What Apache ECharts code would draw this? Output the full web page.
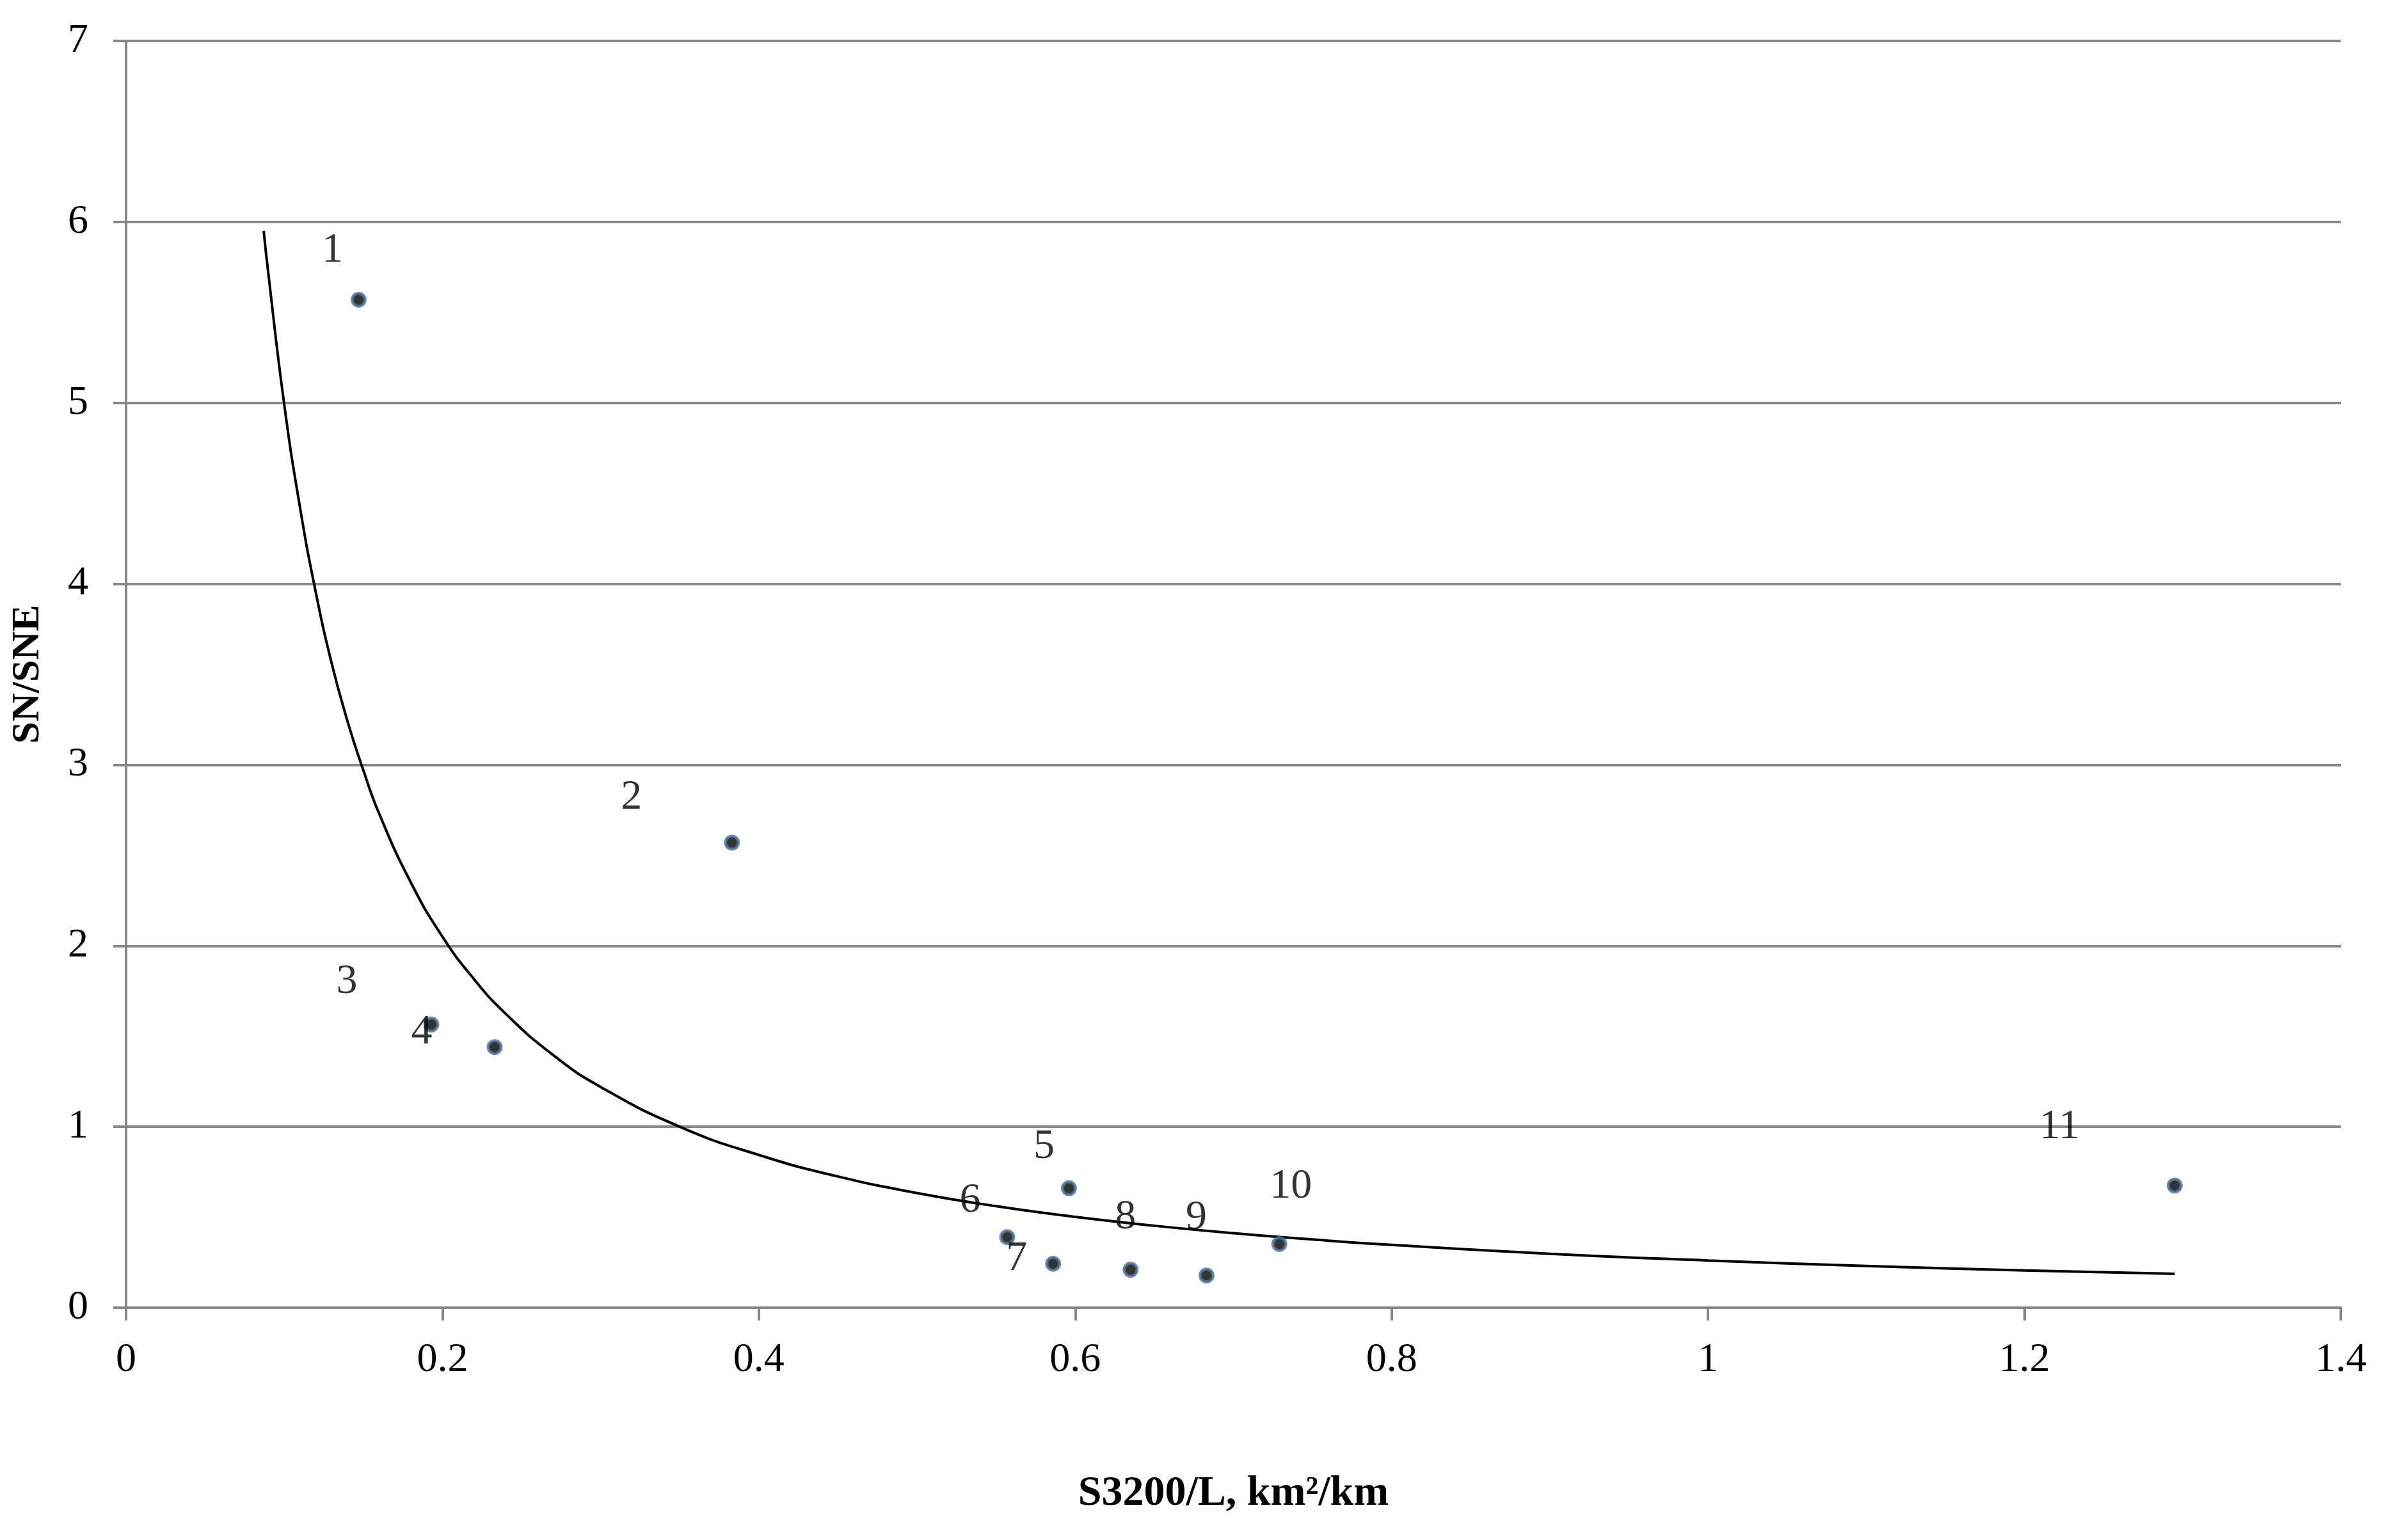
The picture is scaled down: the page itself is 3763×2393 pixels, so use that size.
<!DOCTYPE html>
<html>
<head>
<meta charset="utf-8">
<script src="https://cdn.jsdelivr.net/npm/echarts@6/dist/echarts.min.js"></script>
<style>
html,body{margin:0;padding:0;background:#fff;}
#chart{width:3763px;height:2393px;}
</style>
</head>
<body>
<div id="chart"></div>
<script>
// Data
const pointLabels = ['1','2','3','4','5','6','7','8','9','10','11'];
const pointX = [0.147, 0.383, 0.193, 0.233, 0.596, 0.557, 0.586, 0.635, 0.683, 0.729, 1.295];
const pointY = [5.57, 2.57, 1.565, 1.44, 0.66, 0.39, 0.243, 0.21, 0.178, 0.352, 0.675];

// Trend curve, points
const curveX = [0.087, 0.09, 0.10, 0.11, 0.12, 0.13, 0.14, 0.15, 0.16, 0.18, 0.20, 0.22, 0.24, 0.27, 0.30, 0.35, 0.40, 0.45, 0.50, 0.55, 0.60, 0.65, 0.70, 0.75, 0.80, 0.90, 1.00, 1.10, 1.20, 1.295];
const curveY = [5.95, 5.71, 4.99, 4.42, 3.95, 3.56, 3.24, 2.97, 2.73, 2.35, 2.05, 1.815, 1.624, 1.396, 1.22, 1.00, 0.844, 0.725, 0.634, 0.561, 0.502, 0.453, 0.412, 0.377, 0.347, 0.298, 0.261, 0.231, 0.206, 0.187];

const xTicks = [0, 0.2, 0.4, 0.6, 0.8, 1, 1.2, 1.4];
const yTicks = [0, 1, 2, 3, 4, 5, 6, 7];

// label offsets (styling only)
const labelOffsets = [[-41,-77],[-157,-70],[-132,-67],[-114,-23],[-39,-65],[-58,-57],[-57,-8],[-8,-82],[-16,-90],[18,-90],[-180,-91]];

const FONT = '"Liberation Serif", "Times New Roman", serif';
const GRAY = '#878787';

const scatterData = pointX.map((x, i) => ({
  value: [x, pointY[i]],
  label: {
    show: true,
    formatter: pointLabels[i],
    position: 'inside',
    offset: labelOffsets[i],
    color: '#000',
    fontFamily: FONT,
    fontSize: 66
  }
}));

const chart = echarts.init(document.getElementById('chart'), null, {renderer: 'canvas'});
chart.setOption({
  animation: false,
  backgroundColor: '#fff',
  grid: {left: 197, right: 105, top: 64, bottom: 349, containLabel: false, outerBoundsMode: 'none'},
  xAxis: {
    type: 'value',
    min: xTicks[0], max: xTicks[xTicks.length - 1], interval: 0.2,
    name: 'S3200/L, km²/km',
    nameLocation: 'middle',
    nameGap: 258,
    nameTextStyle: {fontFamily: FONT, fontSize: 66, fontWeight: 'bold', color: '#000'},
    axisLine: {show: true, lineStyle: {color: GRAY, width: 4}},
    axisTick: {show: true, inside: false, length: 20, lineStyle: {color: GRAY, width: 4}},
    axisLabel: {fontFamily: FONT, fontSize: 64, color: '#000', margin: 50,
      formatter: v => String(Math.round(v * 10) / 10)},
    splitLine: {show: false}
  },
  yAxis: {
    type: 'value',
    min: yTicks[0], max: yTicks[yTicks.length - 1], interval: 1,
    name: 'SN/SNE',
    nameLocation: 'middle',
    nameGap: 122,
    nameRotate: 90,
    nameTextStyle: {fontFamily: FONT, fontSize: 62, fontWeight: 'bold', color: '#000'},
    axisLine: {show: true, lineStyle: {color: GRAY, width: 4}},
    axisTick: {show: true, inside: false, length: 20, lineStyle: {color: GRAY, width: 4}},
    axisLabel: {fontFamily: FONT, fontSize: 64, color: '#000', margin: 59},
    splitLine: {show: true, lineStyle: {color: GRAY, width: 4}}
  },
  series: [
    {
      type: 'line',
      data: curveX.map((x, i) => [x, curveY[i]]),
      smooth: true,
      symbol: 'none',
      lineStyle: {color: '#000', width: 4},
      z: 2
    },
    {
      type: 'scatter',
      data: scatterData,
      symbol: 'circle',
      symbolSize: 20,
      itemStyle: {color: '#000', borderColor: '#4f6f96', borderWidth: 5},
      z: 3
    }
  ]
});
</script>
</body>
</html>
